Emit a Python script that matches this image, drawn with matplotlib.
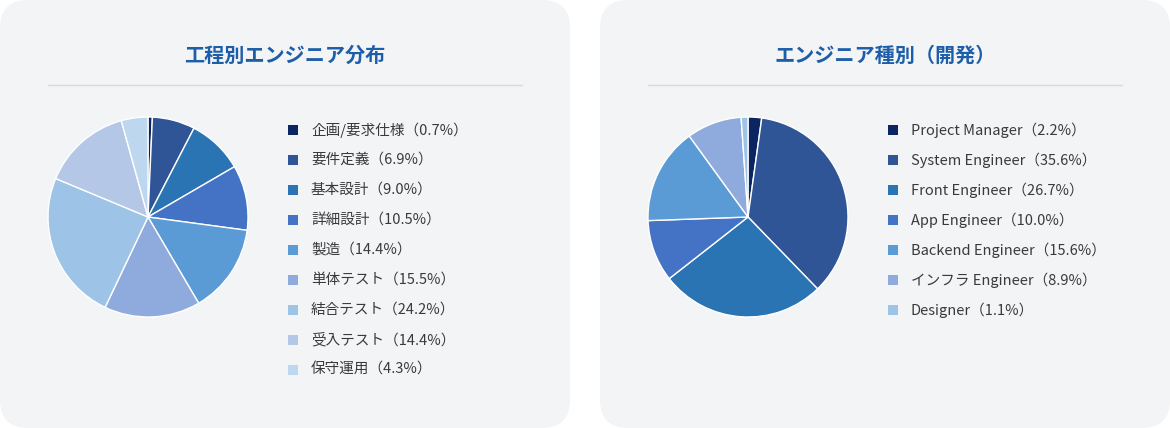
import matplotlib
matplotlib.use("Agg")
import matplotlib.pyplot as plt
from matplotlib.patches import FancyBboxPatch, Rectangle

plt.rcParams['font.family'] = ['Noto Sans CJK JP', 'DejaVu Sans']

# ---- data ----
title_left = "工程別エンジニア分布"
phases = ["企画/要求仕様", "要件定義", "基本設計", "詳細設計", "製造",
          "単体テスト", "結合テスト", "受入テスト", "保守運用"]
phase_pct = [0.7, 6.9, 9.0, 10.5, 14.4, 15.5, 24.2, 14.4, 4.3]

title_right = "エンジニア種別（開発）"
roles = ["Project Manager", "System Engineer", "Front Engineer", "App Engineer",
         "Backend Engineer", "インフラ Engineer", "Designer"]
role_pct = [2.2, 35.6, 26.7, 10.0, 15.6, 8.9, 1.1]

colors = ["#0b2462", "#2f5597", "#2a74b4", "#4472c4", "#5b9bd5",
          "#8faadc", "#9dc3e6", "#b4c7e7", "#bdd7ee"]

W, H = 1170, 428
fig = plt.figure(figsize=(W / 100, H / 100), dpi=100)
fig.patch.set_facecolor("white")

bg = fig.add_axes([0, 0, 1, 1])
bg.set_xlim(0, W)
bg.set_ylim(H, 0)
bg.axis("off")

panel_color = "#f3f4f6"
title_color = "#1d5ea8"
text_color = "#3a3a3a"


def panel(x0, title, labels, vals, legend_x):
    bg.add_patch(FancyBboxPatch((x0 + 28, 28), 570 - 56, H - 56,
                                boxstyle="round,pad=28,rounding_size=28",
                                fc=panel_color, ec="none", zorder=0))
    bg.text(x0 + 285, 55, title, ha="center", va="center", fontsize=14.5,
            fontweight="bold", color=title_color)
    bg.plot([x0 + 48, x0 + 522], [85, 85], color="#d9dadc", lw=1)
    # pie
    cx, cy, r = x0 + 148, 217, 100
    pax = fig.add_axes([(cx - r) / W, 1 - (cy + r) / H, 2 * r / W, 2 * r / H])
    pax.pie(vals, colors=colors[:len(vals)], startangle=90, counterclock=False,
            wedgeprops=dict(edgecolor="white", linewidth=1.0))
    pax.set_xlim(-1.0, 1.0)
    pax.set_ylim(-1.0, 1.0)
    pax.set_aspect("equal")
    pax.axis("off")
    # legend
    for i, (lab, v) in enumerate(zip(labels, vals)):
        y = 130 + 30 * i
        bg.add_patch(Rectangle((legend_x, y - 5), 10, 10, fc=colors[i], ec="none"))
        bg.text(legend_x + 23, y, f"{lab}（{v:.1f}%）", ha="left", va="center",
                fontsize=10.5, color=text_color)


panel(0, title_left, phases, phase_pct, 288)
panel(600, title_right, roles, role_pct, 888)

fig.savefig("out.png", dpi=100, facecolor="white")
